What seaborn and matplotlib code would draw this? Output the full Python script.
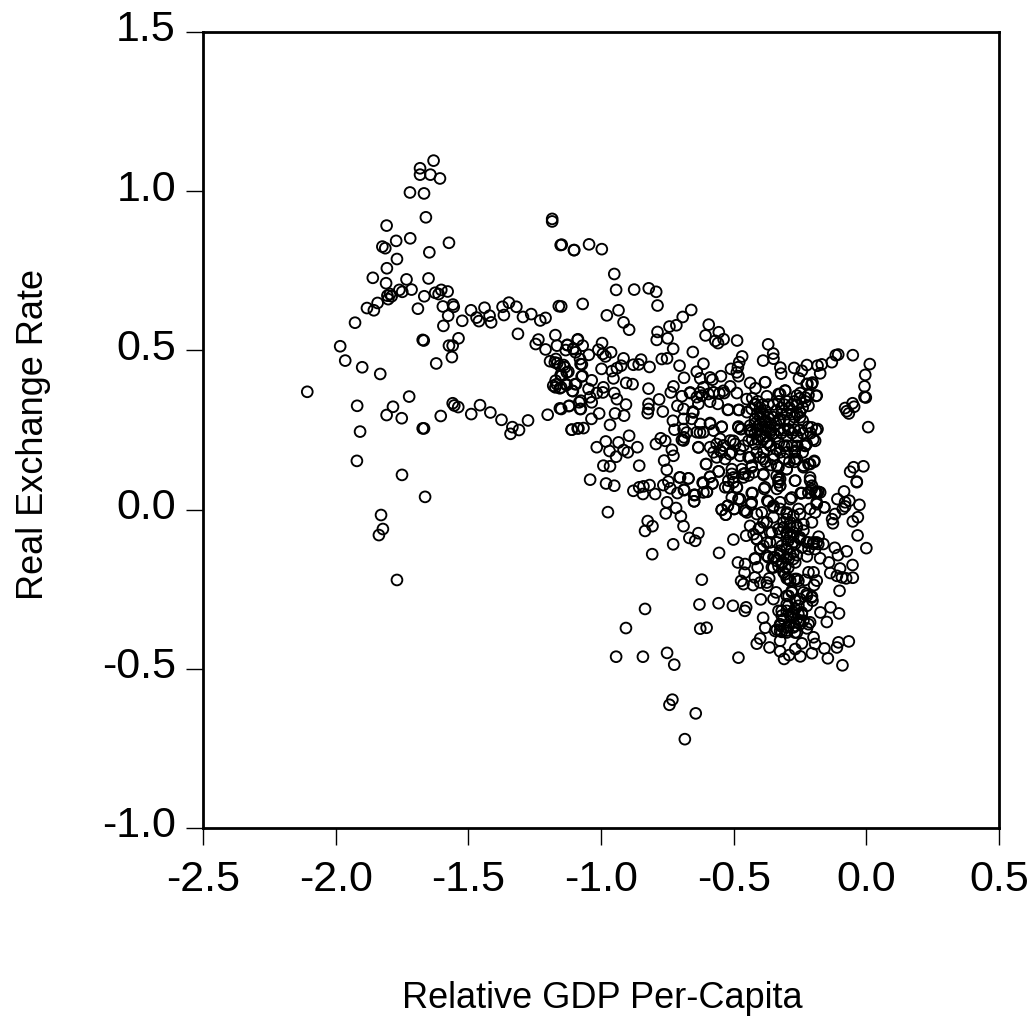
import matplotlib
matplotlib.use("Agg")
import matplotlib.pyplot as plt
from matplotlib.transforms import ScaledTranslation
import seaborn as sns

# values
gdp_left = [-1.631,-1.682,-1.682,-1.643,-1.607,-1.720,-1.667,-1.660,-1.808,-1.184,-1.184,-1.772,-1.719,-1.573,-1.824,-1.813,-1.647,-1.152,-1.102,-1.769,
    -1.807,-1.860,-1.733,-1.650,-1.810,-1.760,-1.749,-1.714,-1.666,-1.625,-1.612,-1.602,-1.578,-1.795,-1.805,-1.802,-1.789,-1.842,-1.882,-1.856,
    -1.690,-1.596,-1.558,-1.555,-1.576,-1.523,-1.490,-1.469,-1.460,-1.439,-1.420,-1.414,-1.371,-1.366,-1.347,-1.319,-1.294,-1.263,-1.229,-1.209,
    -1.159,-1.927,-1.594,-1.537,-1.672,-1.668,-1.573,-1.559,-1.562,-1.621,-1.983,-1.964,-1.900,-1.832,-2.107,-1.919,-1.784,-1.723,-1.808,-1.751,
    -1.908,-1.672,-1.667,-1.604,-1.559,-1.553,-1.538,-1.489,-1.456,-1.417,-1.375,-1.334,-1.341,-1.309,-1.275,-1.201,-1.155,-1.121,-1.313,-1.172,
    -1.236,-1.246,-1.209,-1.166,-1.128,-1.133,-1.104,-1.088,-1.096,-1.192,-1.170,-1.174,-1.165,-1.155,-1.136,-1.123,-1.152,-1.077,-1.073,-1.171,
    -1.180,-1.167,-1.172,-1.155,-1.130,-1.098,-1.108,-1.082,-1.079,-1.111,-1.088,-1.920,-1.750,-1.663,-1.829,-1.822,-1.837,-1.769]
rer_left = [1.096,1.072,1.052,1.052,1.040,0.996,0.993,0.918,0.892,0.913,0.905,0.844,0.852,0.838,0.826,0.821,0.808,0.831,0.815,0.787,
    0.758,0.728,0.723,0.726,0.711,0.690,0.684,0.691,0.670,0.681,0.677,0.690,0.685,0.677,0.672,0.661,0.670,0.649,0.633,0.626,
    0.631,0.638,0.644,0.637,0.609,0.593,0.626,0.603,0.592,0.634,0.609,0.588,0.637,0.611,0.650,0.637,0.605,0.614,0.594,0.602,
    0.639,0.587,0.577,0.538,0.533,0.531,0.515,0.515,0.479,0.459,0.513,0.468,0.447,0.426,0.370,0.326,0.323,0.355,0.297,0.287,
    0.245,0.255,0.255,0.294,0.334,0.327,0.322,0.300,0.328,0.305,0.282,0.259,0.238,0.250,0.280,0.298,0.318,0.325,0.552,0.548,
    0.534,0.520,0.503,0.515,0.517,0.501,0.506,0.533,0.494,0.466,0.473,0.462,0.460,0.452,0.447,0.433,0.423,0.457,0.418,0.405,
    0.389,0.394,0.384,0.381,0.391,0.394,0.373,0.337,0.316,0.251,0.255,0.153,0.109,0.040,-0.017,-0.061,-0.080,-0.221]

gdp_upper = [-1.148,-1.101,-1.045,-0.997,-0.950,-0.943,-0.875,-0.820,-0.792,-0.787,-1.069,-1.150,-0.934,-0.978,-0.915,-0.894,-0.660,-0.692,-0.716,-0.742,
    -0.787,-0.790,-0.749,-0.728,-0.654,-1.087,-1.126,-1.104,-1.069,-0.996,-1.010,-0.962,-0.993,-0.983,-1.046,-1.079,-1.072,-1.141,-1.129,-1.148,
    -0.998,-0.959,-0.940,-0.924,-0.915,-0.878,-0.858,-0.849,-0.817,-0.771,-0.751,-0.704,-0.614,-0.639,-0.594,-0.606,-0.556,-0.538,-0.569,-0.559,
    -0.487,-0.370,-0.351,-0.350,-0.389,-0.468,-0.479,-0.510,-0.484,-0.488,-0.482,-0.324,-0.321,-0.272,-0.243,-0.224,-0.184,-0.168,-0.174,-0.130,
    -0.115,-0.106,-0.051,0.013,-0.004,-0.007,-0.007,-0.002,0.007,-0.052,-0.046,-0.080,-0.074,-0.066,-0.011,-0.048,-0.061,-0.036,-0.687,-0.727,
    -0.737,-0.821,-0.781,-0.821,-0.821,-0.824,-0.767,-0.712,-0.695,-0.664,-0.626,-0.614,-0.589,-0.548,-0.580,-0.513,-0.488,-0.438,-0.418,-0.381,
    -0.375,-0.331,-0.306,-0.254,-0.222,-0.203,-0.189,-0.249,-0.218,-1.120,-1.150,-1.076,-1.035,-1.076,-1.007,-1.036,-1.110,-1.085,-1.066,-0.966,
    -0.947,-0.913,-0.906,-0.940,-0.950,-0.991,-0.993,-1.016,-1.047,-1.035,-1.070,-1.094,-1.106,-1.131,-1.150,-1.041,-0.953,-0.905,-0.881,-0.894,
    -0.982,-0.934,-1.016,-0.968,-0.915,-0.899,-0.863,-0.943,-0.991,-0.966,-0.856,-1.041,-0.981,-0.950,-0.878,-0.856,-0.840,-0.817,-0.842,-0.796,
    -0.793,-0.775,-0.758,-0.733,-0.727,-0.762,-0.752,-0.729,-0.723,-0.689,-0.687,-0.695,-0.689,-0.689,-0.654,-0.658,-0.689,-0.626,-0.589,-0.545,
    -0.639,-0.614,-0.576,-0.633,-0.589,-0.551,-0.604,-0.557,-0.589,-0.704,-0.670,-0.765,-0.746,-0.739,-0.687,-0.712,-0.645,-0.614,-0.580,-0.601,
    -0.614,-0.639,-0.620,-0.595,-0.576,-0.554,-0.536,-0.633,-0.589,-0.560,-0.522,-0.479,-0.450,-0.482,-0.472,-0.438,-0.432,-0.564,-0.538,-0.513,
    -0.494,-0.463,-0.545,-0.532,-0.507,-0.476,-0.444,-0.564,-0.507,-0.469,-0.432,-0.388,-0.400,-0.388,-0.507,-0.501,-0.520,-0.488,-0.463,-0.444,
    -0.425,-0.331,-0.325,-0.337,-0.300,-0.268,-0.262,-0.237,-0.218,-0.197,-0.212,-0.205,-0.193,-0.174,-0.243]
rer_upper = [0.832,0.815,0.833,0.818,0.740,0.690,0.691,0.695,0.684,0.641,0.646,0.638,0.626,0.610,0.588,0.565,0.627,0.605,0.579,0.575,
    0.558,0.533,0.538,0.505,0.495,0.535,0.517,0.504,0.515,0.523,0.502,0.494,0.489,0.481,0.486,0.473,0.456,0.454,0.431,0.421,
    0.442,0.435,0.444,0.452,0.475,0.455,0.456,0.471,0.448,0.473,0.475,0.452,0.458,0.433,0.581,0.547,0.557,0.535,0.530,0.523,
    0.531,0.519,0.490,0.474,0.468,0.481,0.463,0.442,0.447,0.431,0.419,0.446,0.427,0.445,0.436,0.454,0.452,0.456,0.428,0.463,
    0.485,0.487,0.485,0.457,0.423,0.387,0.354,0.352,0.259,0.334,0.323,0.319,0.309,0.302,0.136,0.133,0.119,0.088,0.414,0.387,
    0.368,0.380,0.346,0.332,0.316,0.303,0.308,0.326,0.356,0.366,0.412,0.384,0.415,0.419,0.408,0.387,0.366,0.398,0.381,0.400,
    0.356,0.363,0.374,0.412,0.395,0.399,0.357,0.366,0.360,0.326,0.316,0.342,0.337,0.316,0.302,0.285,0.251,0.255,0.256,0.266,
    0.302,0.295,0.330,0.347,0.366,0.384,0.368,0.366,0.379,0.406,0.420,0.394,0.372,0.394,0.384,0.353,0.412,0.398,0.394,0.232,
    0.214,0.211,0.196,0.184,0.187,0.180,0.196,0.166,0.138,0.136,0.138,0.094,0.082,0.075,0.059,0.070,0.073,0.077,0.049,0.049,
    0.206,0.224,0.216,0.188,0.169,0.154,0.125,0.279,0.251,0.253,0.227,0.219,0.217,0.316,0.308,0.285,0.285,0.269,0.272,0.260,
    0.243,0.243,0.248,0.196,0.196,0.222,0.143,0.120,0.103,0.101,0.098,0.077,0.088,0.067,0.063,0.052,0.046,0.083,0.082,0.056,
    0.054,0.353,0.358,0.363,0.368,0.365,0.366,0.332,0.339,0.332,0.313,0.313,0.306,0.258,0.253,0.264,0.243,0.206,0.201,0.217,
    0.206,0.201,0.180,0.159,0.180,0.169,0.164,0.164,0.127,0.127,0.138,0.180,0.164,0.112,0.112,0.086,0.070,0.070,0.101,0.107,
    0.117,0.096,0.075,0.138,0.127,0.091,0.159,0.138,0.143,0.150,0.101,0.075,0.054,0.054,0.052]

gdp_dense = [-0.43,-0.42,-0.41,-0.40,-0.39,-0.38,-0.37,-0.41,-0.40,-0.39,-0.38,-0.37,-0.36,-0.40,-0.39,-0.38,-0.37,-0.36,-0.41,-0.42,
    -0.40,-0.39,-0.38,-0.37,-0.41,-0.43,-0.44,-0.42,-0.35,-0.34,-0.33,-0.32,-0.31,-0.30,-0.29,-0.28,-0.27,-0.26,-0.25,-0.24,
    -0.23,-0.35,-0.34,-0.33,-0.32,-0.31,-0.30,-0.29,-0.28,-0.27,-0.26,-0.25,-0.24,-0.35,-0.34,-0.33,-0.32,-0.31,-0.30,-0.29,
    -0.28,-0.27,-0.26,-0.25,-0.24,-0.22,-0.21,-0.19,-0.20,-0.36,-0.34,-0.33,-0.31,-0.30,-0.28,-0.27,-0.26,-0.24,-0.23,-0.31,
    -0.29,-0.27,-0.35,-0.38,-0.36]
rer_dense = [0.35,0.33,0.34,0.32,0.33,0.31,0.33,0.30,0.29,0.30,0.28,0.29,0.27,0.27,0.26,0.25,0.26,0.25,0.25,0.24,
    0.23,0.22,0.23,0.21,0.22,0.22,0.25,0.27,0.33,0.31,0.34,0.32,0.33,0.34,0.32,0.33,0.34,0.33,0.35,0.32,
    0.34,0.29,0.27,0.28,0.30,0.28,0.30,0.28,0.30,0.29,0.30,0.29,0.28,0.24,0.23,0.25,0.24,0.25,0.23,0.25,
    0.24,0.25,0.23,0.25,0.24,0.26,0.24,0.25,0.22,0.20,0.19,0.21,0.20,0.18,0.20,0.18,0.20,0.18,0.20,0.16,
    0.15,0.15,0.17,0.15,0.14]

gdp_lower = [-0.974,-0.751,-0.756,-0.717,-0.699,-0.689,-0.824,-0.806,-0.834,-0.667,-0.645,-0.633,-0.728,-0.807,-0.555,-0.501,-0.453,-0.620,-0.484,-0.457,
    -0.459,-0.410,-0.420,-0.420,-0.472,-0.463,-0.427,-0.400,-0.375,-0.373,-0.366,-0.398,-0.350,-0.340,-0.629,-0.557,-0.503,-0.453,-0.458,-0.834,
    -0.906,-0.626,-0.602,-0.389,-0.381,-0.400,-0.413,-0.365,-0.325,-0.325,-0.310,-0.291,-0.268,-0.249,-0.243,-0.205,-0.193,-0.199,-0.158,-0.145,
    -0.111,-0.105,-0.066,-0.090,-0.943,-0.842,-0.751,-0.724,-0.482,-0.731,-0.742,-0.643,-0.684,-0.173,-0.135,-0.103,-0.149,-0.101,-0.051,-0.076,
    -0.111,-0.136,-0.099,-0.092,-0.052,-0.141,-0.174,-0.107,-0.074,-0.119,-0.000,-0.033,-0.162,-0.180,-0.051,-0.032,-0.126,-0.129,-0.118,-0.026,
    -0.064,-0.080,-0.080,-0.089,-0.109,-0.084,-0.036,-0.158,-0.187,-0.193,-0.212,-0.205,-0.187,-0.218,-0.247,-0.545,-0.530,-0.522,-0.498,-0.507,
    -0.476,-0.460,-0.432,-0.438,-0.450,-0.413,-0.394,-0.369,-0.350,-0.325,-0.287,-0.256,-0.300,-0.350,-0.388,-0.406,-0.425,-0.413,-0.400,-0.375,
    -0.369,-0.344,-0.356,-0.331,-0.312,-0.300,-0.287,-0.262,-0.231,-0.218,-0.199,-0.187,-0.197,-0.268,-0.293,-0.319,-0.306,-0.287,-0.262,-0.224,
    -0.193,-0.218,-0.300,-0.325,-0.275,-0.250,-0.287,-0.300,-0.275,-0.237,-0.312,-0.337,-0.356,-0.331,-0.287,-0.262,-0.300,-0.218,-0.199,-0.187,
    -0.293,-0.281,-0.237,-0.224,-0.205,-0.203,-0.268,-0.300,-0.256,-0.224,-0.331,-0.300,-0.275,-0.243,-0.319,-0.281,-0.250,-0.212,-0.325,-0.293,
    -0.268,-0.224,-0.337,-0.319,-0.300,-0.262,-0.649,-0.649,-0.429,-0.385,-0.337,-0.331]
rer_lower = [-0.008,0.023,-0.012,0.005,-0.021,-0.052,-0.036,-0.052,-0.067,-0.089,-0.098,-0.074,-0.109,-0.140,-0.136,-0.094,-0.082,-0.220,-0.166,-0.171,
    -0.198,-0.181,-0.153,-0.213,-0.224,-0.234,-0.237,-0.229,-0.229,-0.239,-0.216,-0.282,-0.281,-0.260,-0.298,-0.294,-0.302,-0.307,-0.318,-0.312,
    -0.372,-0.374,-0.371,-0.340,-0.371,-0.405,-0.421,-0.433,-0.412,-0.445,-0.469,-0.457,-0.438,-0.461,-0.420,-0.451,-0.422,-0.401,-0.436,-0.467,
    -0.433,-0.417,-0.414,-0.489,-0.462,-0.462,-0.450,-0.487,-0.465,-0.597,-0.613,-0.640,-0.721,-0.323,-0.307,-0.326,-0.353,-0.255,-0.214,-0.216,
    -0.208,-0.199,-0.185,-0.213,-0.174,-0.166,-0.153,-0.143,-0.131,-0.120,-0.121,-0.081,-0.108,-0.085,-0.037,-0.024,-0.043,-0.030,-0.014,0.015,
    0.028,0.023,0.010,0.002,0.033,0.057,0.086,0.007,0.023,-0.009,0.002,-0.040,0.054,0.052,0.052,-0.001,-0.016,0.012,0.002,0.038,
    0.033,-0.003,0.023,-0.051,-0.009,-0.014,-0.009,0.025,0.012,0.023,0.033,0.002,-0.014,-0.024,-0.040,-0.061,-0.077,-0.092,-0.122,-0.103,
    -0.150,-0.150,-0.181,-0.178,-0.197,-0.216,-0.223,-0.218,-0.221,-0.197,-0.197,-0.223,-0.237,-0.166,-0.155,-0.166,-0.181,-0.140,-0.143,-0.147,
    -0.124,-0.124,-0.124,-0.129,-0.103,-0.092,-0.087,-0.072,-0.072,-0.066,-0.056,-0.103,-0.072,-0.061,-0.040,-0.051,-0.030,-0.103,-0.108,-0.103,
    -0.271,-0.255,-0.260,-0.271,-0.273,-0.286,-0.286,-0.297,-0.302,-0.302,-0.318,-0.318,-0.323,-0.328,-0.333,-0.339,-0.349,-0.354,-0.360,-0.365,
    -0.365,-0.373,-0.377,-0.384,-0.380,-0.386,0.046,0.026,0.052,0.065,0.065,0.086]

# second pass over the crowded middle
gdp_extra = [-0.520,-0.482,-0.382,-0.187,-0.206,-0.225,-0.482,-0.472,-0.604,-0.556,-0.589,-0.671,-0.702,-0.617,-0.580,-0.601,-0.649,-0.649,-0.687,-0.545,
    -0.530,-0.522,-0.498,-0.482,-0.455,-0.434,-0.432,-0.382,-0.373,-0.350,-0.325,-0.325,-0.281,-0.247,-0.218,-0.193,-0.181,-0.187,-0.159,-0.388,
    -0.463,-0.501,-0.532,-0.488,-0.520,-0.432,-0.457,-0.338,-0.331,-0.300,-0.269,-0.237,-0.212,-0.196,-0.212,-0.206,-0.269,-0.576,-0.633,-0.677,
    -0.652,-0.664,-0.627,-0.576,-0.539,-0.627,-0.589,-0.545,-0.539,-0.514,-0.476,-0.444,-0.501,-0.551,-0.438,-0.388,-0.413,-0.350,-0.451,-0.432,
    -0.419,-0.438,-0.400,-0.363,-0.325,-0.300,-0.269,-0.325,-0.294,-0.262,-0.231,-0.193,-0.206,-0.184,-0.225,-0.250,-0.218,-0.262,-0.325,-0.306,
    -0.231,-0.419,-0.400,-0.382,-0.407,-0.363,-0.375,-0.419,
    -0.325,-0.300,-0.275,-0.250,-0.312,-0.287,-0.262,-0.237,-0.325,-0.300,-0.275,-0.250,-0.225,-0.200,-0.181,-0.294,-0.269,-0.243,-0.319,-0.300,
    -0.275,-0.325,-0.300,-0.275,-0.338,-0.319,-0.294,-0.306,-0.294,-0.269,-0.256,-0.375,-0.363,-0.400,-0.413,-0.388,-0.363,-0.375,-0.350,-0.400,
    -0.350,-0.419,-0.300,-0.281,-0.250,-0.225,-0.206,-0.319,-0.294,-0.269,-0.243,-0.312,-0.287,-0.262,-0.237,-0.325,-0.300,-0.275,-0.250,-0.325,
    -0.300,-0.269,-0.344,-0.218,-0.281,-0.256]
rer_extra = [0.314,0.313,0.400,0.358,0.394,0.394,0.261,0.253,0.143,0.120,0.103,0.098,0.101,0.085,0.082,0.056,0.046,0.026,0.061,0.000,
    -0.016,0.012,0.002,0.033,-0.004,0.017,0.052,0.070,0.028,0.007,0.096,0.075,0.038,0.051,0.054,0.054,0.056,0.017,0.007,0.109,
    0.112,0.101,0.070,0.070,0.091,0.133,0.114,0.106,0.133,0.127,0.159,0.133,0.143,0.153,0.091,0.064,0.091,0.180,0.195,0.242,
    0.305,0.368,0.368,0.368,0.373,0.242,0.269,0.260,0.201,0.174,0.190,0.216,0.216,0.185,0.164,0.159,0.180,0.159,0.347,0.316,
    0.284,0.248,0.232,0.201,0.180,0.201,0.185,0.284,0.253,0.227,0.201,0.216,0.258,0.253,0.206,0.305,0.326,0.358,0.363,0.373,
    0.352,0.331,0.305,0.274,0.263,0.242,0.211,0.206,
    0.002,-0.009,-0.019,-0.014,-0.040,-0.051,-0.056,-0.046,-0.072,-0.077,-0.082,-0.087,-0.103,-0.103,-0.108,-0.098,-0.108,-0.119,-0.114,-0.124,
    -0.135,-0.140,-0.150,-0.155,-0.161,-0.171,-0.182,-0.203,-0.218,-0.218,-0.224,-0.040,-0.072,-0.056,-0.093,-0.114,-0.103,-0.145,-0.150,-0.124,
    -0.182,-0.155,-0.271,-0.260,-0.281,-0.265,-0.276,-0.318,-0.302,-0.313,-0.323,-0.344,-0.333,-0.344,-0.349,-0.365,-0.370,-0.370,-0.360,-0.381,
    -0.386,-0.386,-0.381,-0.360,-0.328,-0.328]

gdp = gdp_left + gdp_upper + gdp_dense + gdp_lower + gdp_extra
rer = rer_left + rer_upper + rer_dense + rer_lower + rer_extra

x_ticks = [-2.5, -2.0, -1.5, -1.0, -0.5, 0.0, 0.5]
y_ticks = [-1.0, -0.5, 0.0, 0.5, 1.0, 1.5]

sns.set_style("ticks")
plt.rcParams['font.family'] = ['Liberation Sans', 'DejaVu Sans']
plt.rcParams['text.color'] = 'black'

fig = plt.figure(figsize=(10.36, 10.20), dpi=100)
ax = fig.add_axes([203/1036, 1 - 829/1020, 796/1036, 796/1020])

sns.scatterplot(x=gdp, y=rer, ax=ax, s=60, facecolor='none', edgecolor='black', linewidth=1.35, clip_on=False)

ax.set_xlim(-2.5, 0.5)
ax.set_ylim(-1.0, 1.5)
ax.set_xticks(x_ticks)
ax.set_yticks(y_ticks)
ax.set_xticklabels([f'{v:.1f}' for v in x_ticks])
ax.set_yticklabels([f'{v:.1f}' for v in y_ticks])
ax.tick_params(axis='both', direction='out', length=12.5, width=1.0, labelsize=31, color='black', labelcolor='black')
ax.tick_params(axis='x', pad=10)
ax.tick_params(axis='y', pad=7)
# y tick labels sit a little above their ticks in the original
for lab in ax.get_yticklabels():
    lab.set_transform(lab.get_transform() + ScaledTranslation(0, 7/100, fig.dpi_scale_trans))
for s in ax.spines.values():
    s.set_visible(True)
    s.set_linewidth(2.0)
    s.set_color('black')

fig.text(602/1036, 1 - 1008/1020, 'Relative GDP Per-Capita', fontsize=26, ha='center', va='baseline', color='black')
fig.text(43/1036, 1 - 434/1020, 'Real Exchange Rate', fontsize=26, ha='center', va='baseline', rotation=90, rotation_mode='anchor', color='black')

print(len(gdp), len(rer))
fig.savefig('out.png', dpi=100)
